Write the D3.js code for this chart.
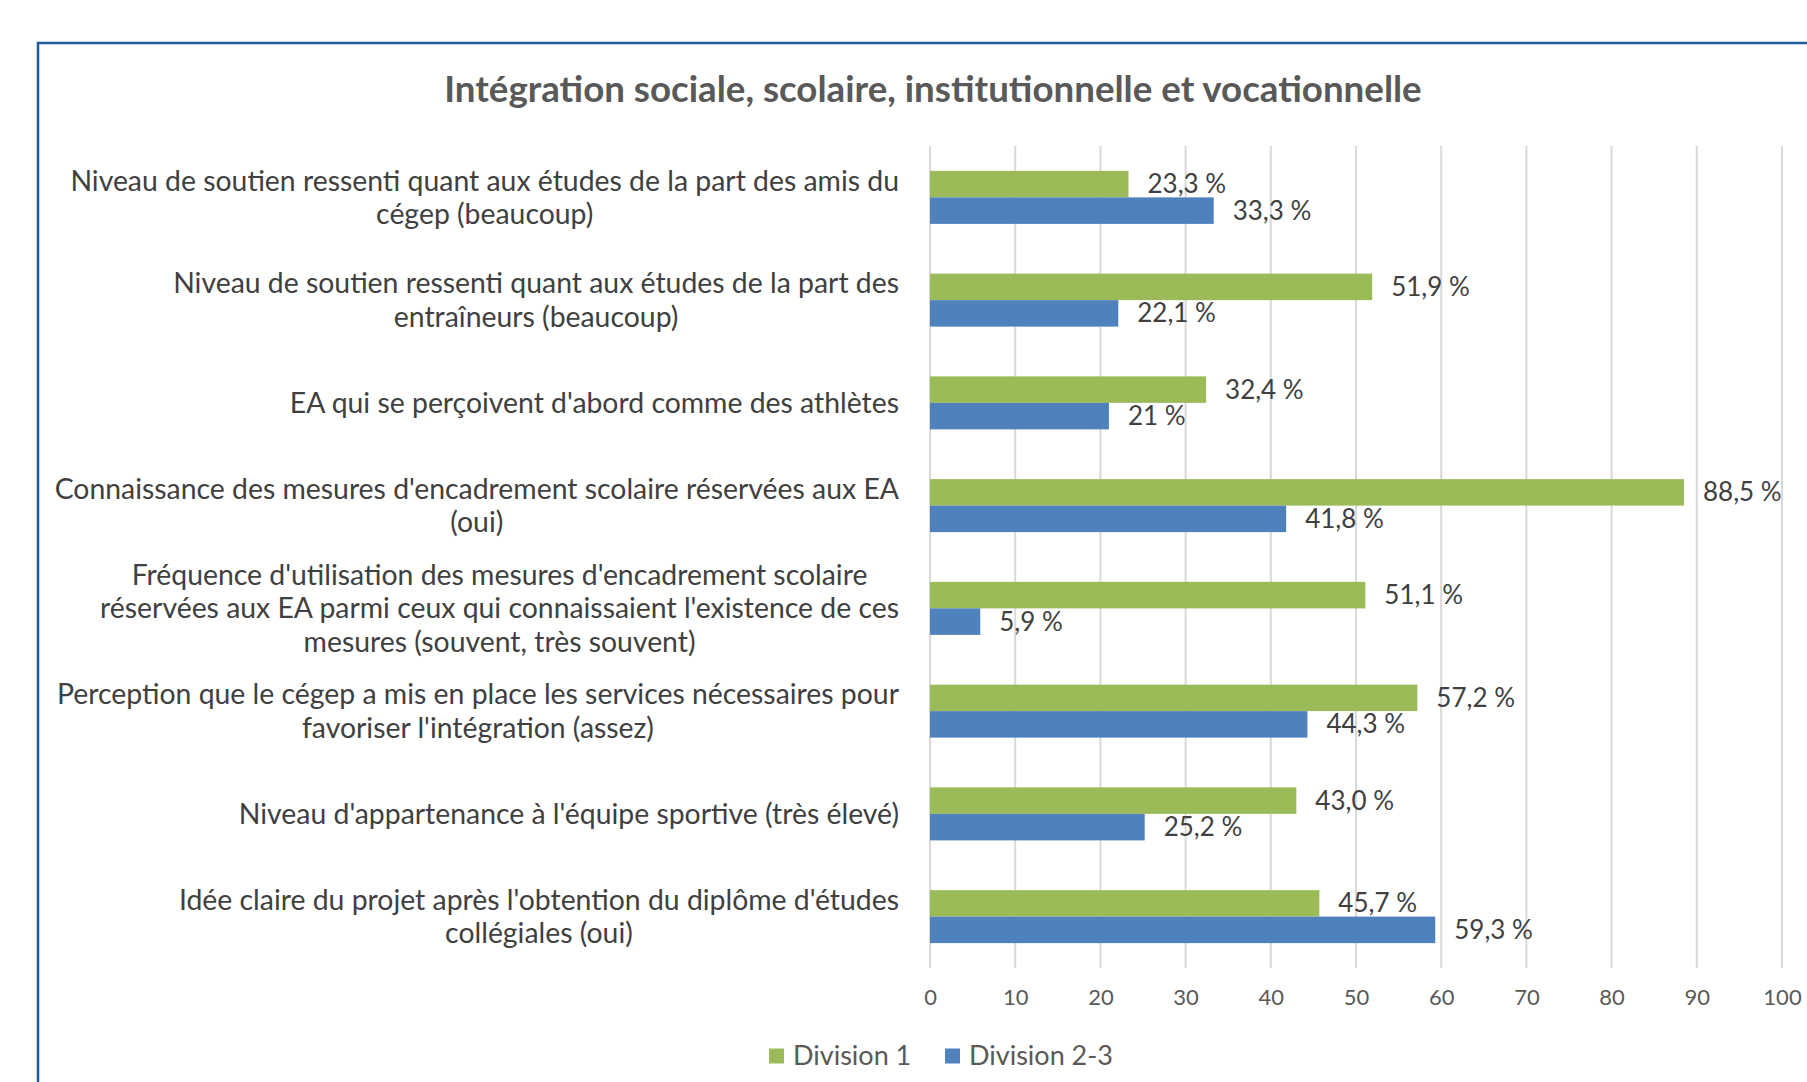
<!DOCTYPE html>
<html>
<head>
<meta charset="utf-8">
<script src="https://cdn.jsdelivr.net/npm/d3@7"></script>
<style>
  body { margin: 0; background: #fff; }
  svg { display: block; }
  text { font-family: Lato, "Open Sans", sans-serif; }
</style>
</head>
<body>
<svg width="1807" height="1082"></svg>
<script>
// data
var categories = [
  ["Niveau de soutien ressenti quant aux études de la part des amis du", "cégep (beaucoup)"],
  ["Niveau de soutien ressenti quant aux études de la part des", "entraîneurs (beaucoup)"],
  ["EA qui se perçoivent d'abord comme des athlètes"],
  ["Connaissance des mesures d'encadrement scolaire réservées aux EA", "(oui)"],
  ["Fréquence d'utilisation des mesures d'encadrement scolaire", "réservées aux EA parmi ceux qui connaissaient l'existence de ces", "mesures (souvent, très souvent)"],
  ["Perception que le cégep a mis en place les services nécessaires pour", "favoriser l'intégration (assez)"],
  ["Niveau d'appartenance à l'équipe sportive (très élevé)"],
  ["Idée claire du projet après l'obtention du diplôme d'études", "collégiales (oui)"]
];
var division1 = [23.3, 51.9, 32.4, 88.5, 51.1, 57.2, 43.0, 45.7];
var division23 = [33.3, 22.1, 21, 41.8, 5.9, 44.3, 25.2, 59.3];
var labels1 = ["23,3 %", "51,9 %", "32,4 %", "88,5 %", "51,1 %", "57,2 %", "43,0 %", "45,7 %"];
var labels23 = ["33,3 %", "22,1 %", "21 %", "41,8 %", "5,9 %", "44,3 %", "25,2 %", "59,3 %"];
var seriesNames = ["Division 1", "Division 2-3"];
var seriesColors = ["#9bbb59", "#4f81bd"];
var xTicks = [0, 10, 20, 30, 40, 50, 60, 70, 80, 90, 100];

var svg = d3.select("svg");

// frame
svg.append("path")
    .attr("d", "M38,1082 L38,43 L1807,43")
    .attr("fill", "none")
    .attr("stroke", "#1f5c9e")
    .attr("stroke-width", 2.5);

// title
svg.append("text")
    .attr("x", 933).attr("y", 102)
    .attr("text-anchor", "middle")
    .attr("font-weight", "bold")
    .attr("font-size", 30)
    .attr("fill", "#595959")
    .text("Intégration sociale, scolaire, institutionnelle et vocationnelle")
    .call(fitWidth, 978);

// scales
var x = d3.scaleLinear().domain([0, 100]).range([930, 1782]);
var y = d3.scaleBand().domain(d3.range(categories.length)).range([146, 968]);
var sub = d3.scaleBand().domain([0, 1]).range([0, 53]);
var subOffset = y.bandwidth() / 2 - 26.5;

// gridlines
svg.append("g").selectAll("line")
    .data(xTicks)
    .enter().append("line")
    .attr("x1", d => x(d)).attr("x2", d => x(d))
    .attr("y1", 146).attr("y2", 968)
    .attr("stroke", "#d9d9d9")
    .attr("stroke-width", 2);

// x axis tick labels
var xAxis = d3.axisBottom(x).tickValues(xTicks).tickSize(0).tickPadding(0);
var gx = svg.append("g")
    .attr("transform", "translate(0,989)")
    .call(xAxis);
gx.select(".domain").remove();
gx.selectAll("text")
    .attr("font-family", "Lato, sans-serif")
    .attr("font-size", 22)
    .attr("fill", "#595959");

// bars
var series = [division1, division23];
var seriesLabels = [labels1, labels23];
series.forEach(function(vals, s) {
  var g = svg.append("g");
  g.selectAll("rect")
      .data(vals)
      .enter().append("rect")
      .attr("x", x(0))
      .attr("y", (d, i) => y(i) + subOffset + sub(s))
      .attr("width", d => x(d) - x(0))
      .attr("height", sub.bandwidth())
      .attr("fill", seriesColors[s]);
  g.selectAll("text")
      .data(vals)
      .enter().append("text")
      .attr("x", d => x(d) + 19)
      .attr("y", (d, i) => y(i) + subOffset + sub(s) + sub.bandwidth() / 2)
      .attr("dy", "0.35em")
      .attr("font-size", 26)
      .attr("fill", "#404040")
      .text((d, i) => seriesLabels[s][i]);
});

// category labels: block right-aligned, lines centered in block
var catSize = 24, lineH = 33.5, blockRight = 899;
var catG = svg.append("g");
categories.forEach(function(lines, i) {
  var t = catG.append("text")
      .attr("font-size", catSize)
      .attr("fill", "#404040")
      .attr("text-anchor", "middle");
  var cy = y(i) + y.bandwidth() / 2;
  lines.forEach(function(l, j) {
    t.append("tspan")
        .attr("y", cy + (j - (lines.length - 1) / 2) * lineH)
        .attr("dy", "0.35em")
        .text(l);
  });
});
// scale font so the longest line matches the picture
var longest = 0;
catG.selectAll("tspan").each(function() { longest = Math.max(longest, this.getComputedTextLength()); });
catSize = catSize * 845 / longest;
catG.selectAll("text").attr("font-size", catSize);
catG.selectAll("text").each(function() {
  var w = 0;
  d3.select(this).selectAll("tspan").each(function() { w = Math.max(w, this.getComputedTextLength()); });
  d3.select(this).selectAll("tspan").attr("x", blockRight - w / 2);
});

// legend
var legend = svg.append("g").attr("transform", "translate(769,1056)");
var legX = [0, 176];
seriesNames.forEach(function(n, i) {
  legend.append("rect")
      .attr("x", legX[i]).attr("y", -7.5)
      .attr("width", 15).attr("height", 15)
      .attr("fill", seriesColors[i]);
  legend.append("text")
      .attr("x", legX[i] + 24).attr("y", 0)
      .attr("dy", "0.35em")
      .attr("font-size", 27)
      .attr("fill", "#595959")
      .text(n);
});

function fitWidth(sel, w) {
  var len = sel.node().getComputedTextLength();
  var fs = +sel.attr("font-size");
  sel.attr("font-size", fs * w / len);
}
</script>
</body>
</html>
